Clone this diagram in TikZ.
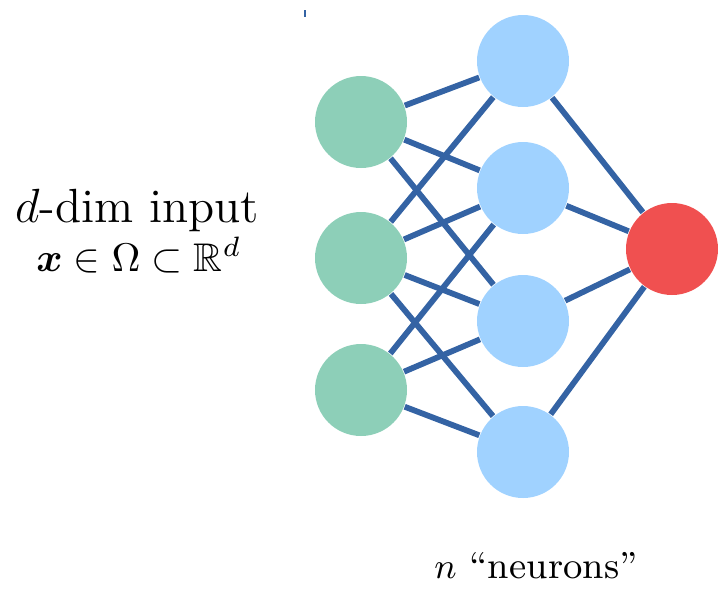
\documentclass[tikz,border=0pt]{standalone}
\usepackage{amsmath, amssymb, bm}
\usepackage{tikz}
\usetikzlibrary{positioning}
\definecolor{edgeblue}{RGB}{52,99,164}
\definecolor{inputgreen}{RGB}{141,207,184}
\definecolor{hiddenblue}{RGB}{160,210,255}
\definecolor{outputred}{RGB}{240,80,80}

\begin{document}
\begin{tikzpicture}[
  x=0.25pt, y=-0.25pt,
  neuron/.style={circle, draw=none, inner sep=0pt, minimum size=23pt},
  innode/.style={neuron, fill=inputgreen},
  hidnode/.style={neuron, fill=hiddenblue},
  outnode/.style={neuron, fill=outputred},
  edge/.style={edgeblue, line width=1.45pt},
  lbl/.style={inner sep=0pt, anchor=base}
]
\useasboundingbox (0,0) rectangle (718,591);

% Input layer
\node[innode] (in1) at (361,122) {};
\node[innode] (in2) at (361,258) {};
\node[innode] (in3) at (361,390) {};

% Hidden layer
\node[hidnode] (h1) at (523,61) {};
\node[hidnode] (h2) at (523,188) {};
\node[hidnode] (h3) at (523,321) {};
\node[hidnode] (h4) at (523,452) {};

% Output
\node[outnode] (out) at (672,249) {};

% Connections
\draw[edge] (in1) -- (h1) (in1) -- (h2) (in1) -- (h3);
\draw[edge] (in2) -- (h1) (in2) -- (h2) (in2) -- (h3) (in2) -- (h4);
\draw[edge] (in3) -- (h2) (in3) -- (h3) (in3) -- (h4);
\draw[edge] (h1) -- (out) (h2) -- (out) (h3) -- (out) (h4) -- (out);

% Stray mark
\coordinate (marktop) at (305,10);
\coordinate (markbot) at (305,17);
\draw[edgeblue, line width=0.5pt] (marktop) -- (markbot);

% Labels
\node[lbl, font=\large] (inlbl) at (137,222) {$d$-dim input};
\node[lbl] (inmath) at (139,271) {$\bm{x} \in \Omega \subset \mathbb{R}^d$};
\node[lbl, font=\fontsize{9.4}{11}\selectfont] (hidlbl) at (536,578) {$n$ ``neurons''};
\end{tikzpicture}
\end{document}
